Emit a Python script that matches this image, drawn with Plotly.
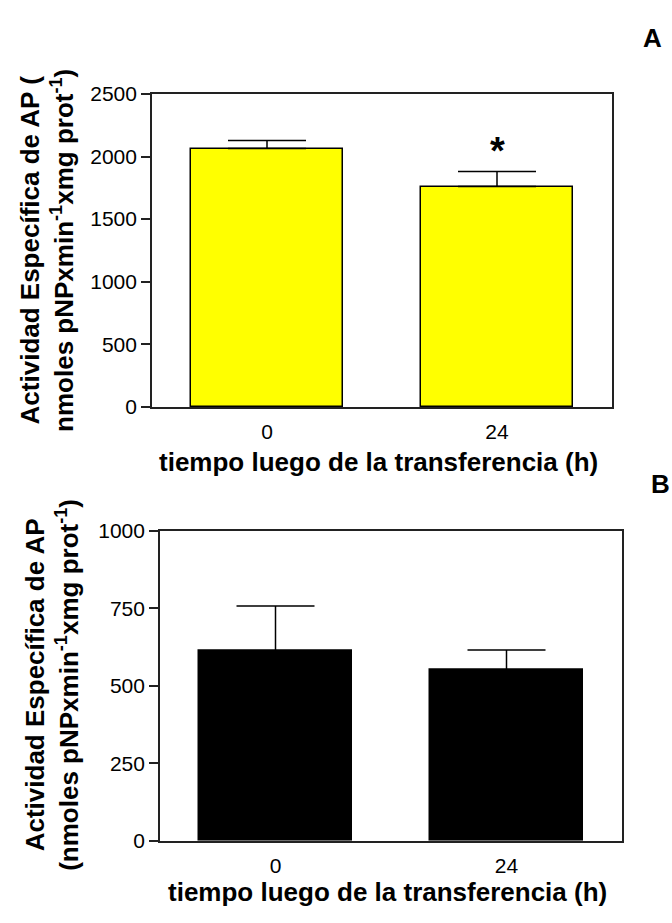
import plotly.graph_objects as go

# Alkaline phosphatase specific activity after transfer
categories = ["0", "24"]

# Panel A
a_values = [2064, 1761]
a_errors = [63, 119]
a_ticks = [0, 500, 1000, 1500, 2000, 2500]

# Panel B
b_values = [613, 551]
b_errors = [144, 64]
b_ticks = [0, 250, 500, 750, 1000]

FONT = "Liberation Sans, Arial, sans-serif"
W, H = 672, 923


def px_x(x):
    return x / W


def px_y(y):
    return 1 - y / H


fig = go.Figure()

fig.add_trace(go.Bar(
    x=categories, y=a_values, xaxis="x", yaxis="y",
    width=0.664,
    marker=dict(color="#FFFF00", line=dict(color="#000000", width=1.5)),
    error_y=dict(type="data", symmetric=False, array=a_errors, arrayminus=[0, 0],
                 color="#000000", thickness=1.5, width=39),
    showlegend=False,
))

fig.add_trace(go.Bar(
    x=categories, y=b_values, xaxis="x2", yaxis="y2",
    width=0.665,
    marker=dict(color="#000000", line=dict(color="#000000", width=1.5)),
    error_y=dict(type="data", symmetric=False, array=b_errors, arrayminus=[0, 0],
                 color="#000000", thickness=1.5, width=39),
    showlegend=False,
))

axis_common = dict(
    showline=True, linecolor="#222222", linewidth=1.7, mirror=True,
    showgrid=False, zeroline=False,
    tickfont=dict(family=FONT, size=21, color="#000000"),
)

fig.update_layout(
    width=W, height=H,
    margin=dict(l=0, r=0, t=0, b=0),
    paper_bgcolor="white", plot_bgcolor="white",
    bargap=0,
    xaxis=dict(domain=[px_x(152), px_x(612)], anchor="y", type="category",
               range=[-0.5, 1.5], ticks="", ticklabelstandoff=5, **axis_common),
    yaxis=dict(domain=[px_y(405), px_y(84)], anchor="x", range=[0, 2500],
               tickvals=a_ticks, ticks="outside", ticklen=9, tickwidth=1.5,
               tickcolor="#222222", **axis_common),
    xaxis2=dict(domain=[px_x(160), px_x(622)], anchor="y2", type="category",
                range=[-0.5, 1.5], ticks="", ticklabelstandoff=5, **axis_common),
    yaxis2=dict(domain=[px_y(850), px_y(532)], anchor="x2", range=[0, 1000],
                tickvals=b_ticks, ticks="outside", ticklen=9, tickwidth=1.5,
                tickcolor="#222222", **axis_common),
)

title_font = dict(family=FONT, size=26, color="#000000")
x_title = "<b>tiempo luego de la transferencia (h)</b>"

annotations = [
    # Panel A
    dict(x=px_x(378), y=px_y(461), xref="paper", yref="paper", text=x_title,
         showarrow=False, xanchor="center", yanchor="middle", font=title_font),
    dict(x=px_x(47), y=px_y(245), xref="paper", yref="paper",
         text="<b>Actividad Específica de AP (<br>nmoles pNPxmin<sup>-1</sup>xmg prot<sup>-1</sup>)</b>",
         showarrow=False, textangle=-90, xanchor="center", yanchor="middle",
         font=title_font),
    # significance marker above the 24 h bar (category index 1)
    dict(x=1, y=2040, xref="x", yref="y", text="<b>*</b>", showarrow=False,
         xanchor="center", yanchor="middle",
         font=dict(family=FONT, size=38, color="#000000")),
    dict(x=px_x(652), y=px_y(27), xref="paper", yref="paper", text="<b>A</b>",
         showarrow=False, xanchor="center", yanchor="middle",
         font=dict(family=FONT, size=26, color="#000000")),
    # Panel B
    dict(x=px_x(388), y=px_y(902), xref="paper", yref="paper", text=x_title,
         showarrow=False, xanchor="center", yanchor="middle", font=title_font),
    dict(x=px_x(52), y=px_y(690), xref="paper", yref="paper",
         text="<b>Actividad Específica de AP<br>(nmoles pNPxmin<sup>-1</sup>xmg prot<sup>-1</sup>)</b>",
         showarrow=False, textangle=-90, xanchor="center", yanchor="middle",
         font=title_font),
    dict(x=px_x(660), y=px_y(484), xref="paper", yref="paper", text="<b>B</b>",
         showarrow=False, xanchor="center", yanchor="middle",
         font=dict(family=FONT, size=26, color="#000000")),
]
fig.update_layout(annotations=annotations)

fig.write_html("out.html")
